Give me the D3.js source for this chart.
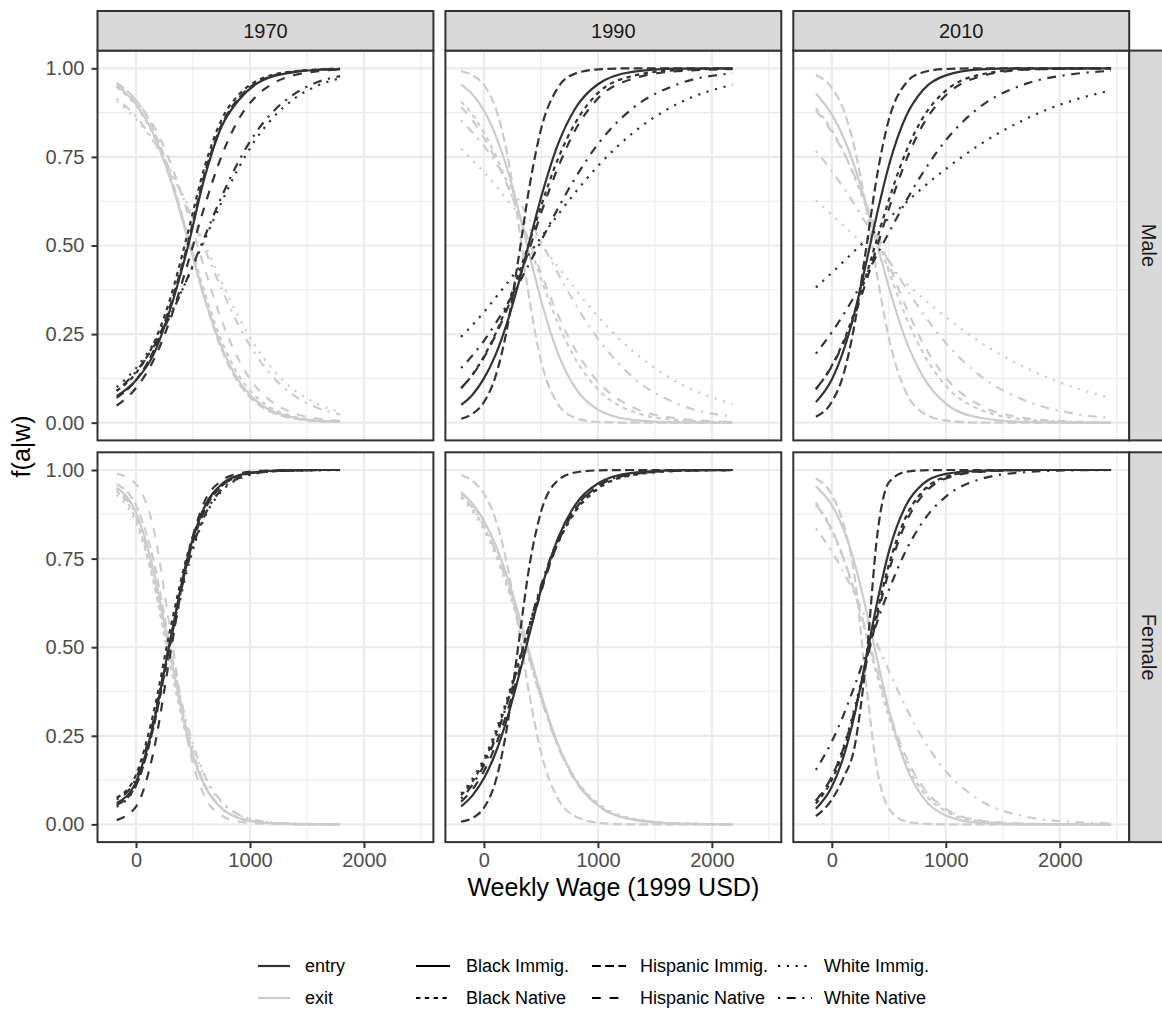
<!DOCTYPE html>
<html>
<head>
<meta charset="utf-8">
<title>f(a|w) by weekly wage</title>
<script src="https://d3js.org/d3.v7.min.js"></script>
<style>
  body { margin: 0; background: #ffffff; }
  svg text { font-family: "Liberation Sans", Arial, Helvetica, sans-serif; }
</style>
</head>
<body>
<script>
// facets and groups
var years = ["1970", "1990", "2010"];
var sexes = ["Male", "Female"];
var flows = ["entry", "exit"];
var groups = ["Black Immig.", "Black Native", "Hispanic Immig.", "Hispanic Native", "White Immig.", "White Native"];

var xTicks = [0, 1000, 2000];
var xMinor = [500, 1500, 2500];
var yTicks = [0, 0.25, 0.5, 0.75, 1];
var yMinor = [0.125, 0.375, 0.625, 0.875];

// wage points where the curves were read
var wage1970 = [-170, 0, 150, 300, 450, 600, 750, 900, 1050, 1200, 1400, 1600, 1790];
var wage1990 = [-200, -100, 0, 100, 200, 300, 400, 500, 650, 800, 1000, 1300, 1700, 2180];
var wage2010 = [-140, 0, 100, 200, 300, 400, 500, 650, 800, 1000, 1300, 1700, 2100, 2450];

// rows follow the order of groups
var male1970Entry = [
  [0.075, 0.12, 0.19, 0.32, 0.49, 0.69, 0.835, 0.91, 0.955, 0.977, 0.99, 0.996, 0.998],
  [0.09, 0.14, 0.22, 0.35, 0.53, 0.72, 0.855, 0.925, 0.963, 0.982, 0.992, 0.997, 0.999],
  [0.07, 0.12, 0.2, 0.33, 0.5, 0.7, 0.84, 0.915, 0.958, 0.979, 0.991, 0.996, 0.998],
  [0.048, 0.098, 0.174, 0.291, 0.445, 0.609, 0.752, 0.856, 0.92, 0.957, 0.982, 0.992, 0.997],
  [0.1, 0.154, 0.221, 0.305, 0.406, 0.515, 0.622, 0.719, 0.799, 0.86, 0.917, 0.952, 0.972],
  [0.09, 0.144, 0.212, 0.301, 0.407, 0.523, 0.637, 0.737, 0.818, 0.877, 0.93, 0.962, 0.978]
];
var male1970Exit = [
  [0.951, 0.899, 0.816, 0.688, 0.523, 0.353, 0.214, 0.119, 0.063, 0.032, 0.013, 0.005, 0.002],
  [0.947, 0.894, 0.813, 0.69, 0.533, 0.37, 0.231, 0.134, 0.074, 0.039, 0.016, 0.007, 0.003],
  [0.959, 0.91, 0.83, 0.701, 0.53, 0.352, 0.207, 0.112, 0.057, 0.028, 0.011, 0.004, 0.002],
  [0.953, 0.909, 0.84, 0.735, 0.595, 0.437, 0.29, 0.178, 0.102, 0.057, 0.025, 0.011, 0.005],
  [0.908, 0.857, 0.795, 0.713, 0.616, 0.507, 0.398, 0.299, 0.215, 0.15, 0.089, 0.052, 0.03],
  [0.915, 0.863, 0.798, 0.712, 0.608, 0.492, 0.378, 0.275, 0.192, 0.129, 0.074, 0.041, 0.023]
];
var female1970Entry = [
  [0.06, 0.12, 0.28, 0.52, 0.75, 0.895, 0.96, 0.985, 0.994, 0.998, 0.999, 1, 1],
  [0.075, 0.14, 0.31, 0.55, 0.76, 0.895, 0.955, 0.982, 0.993, 0.997, 0.999, 1, 1],
  [0.055, 0.11, 0.27, 0.51, 0.74, 0.885, 0.955, 0.983, 0.994, 0.998, 0.999, 1, 1],
  [0.012, 0.05, 0.2, 0.48, 0.75, 0.91, 0.97, 0.99, 0.997, 0.999, 1, 1, 1],
  [0.05, 0.11, 0.27, 0.5, 0.72, 0.865, 0.94, 0.975, 0.99, 0.996, 0.998, 0.999, 1],
  [0.07, 0.13, 0.29, 0.52, 0.73, 0.87, 0.945, 0.977, 0.991, 0.996, 0.999, 1, 1]
];
var female1970Exit = [
  [0.95, 0.88, 0.72, 0.48, 0.25, 0.11, 0.045, 0.018, 0.007, 0.003, 0.001, 0, 0],
  [0.94, 0.86, 0.69, 0.45, 0.24, 0.11, 0.046, 0.019, 0.008, 0.003, 0.001, 0, 0],
  [0.96, 0.9, 0.75, 0.5, 0.26, 0.115, 0.047, 0.018, 0.007, 0.003, 0.001, 0, 0],
  [0.99, 0.96, 0.84, 0.55, 0.24, 0.08, 0.025, 0.008, 0.003, 0.001, 0, 0, 0],
  [0.93, 0.85, 0.69, 0.47, 0.27, 0.135, 0.062, 0.027, 0.012, 0.005, 0.002, 0.001, 0],
  [0.945, 0.87, 0.71, 0.49, 0.28, 0.14, 0.065, 0.028, 0.012, 0.005, 0.002, 0.001, 0]
];

var male1990Entry = [
  [0.05, 0.079, 0.125, 0.19, 0.279, 0.389, 0.512, 0.634, 0.786, 0.886, 0.955, 0.99, 0.999, 1],
  [0.097, 0.136, 0.187, 0.25, 0.328, 0.416, 0.51, 0.61, 0.745, 0.845, 0.93, 0.978, 0.995, 0.999],
  [0.011, 0.025, 0.058, 0.129, 0.261, 0.457, 0.667, 0.827, 0.946, 0.985, 0.997, 1, 1, 1],
  [0.098, 0.135, 0.184, 0.245, 0.318, 0.401, 0.491, 0.59, 0.72, 0.825, 0.915, 0.97, 0.992, 0.998],
  [0.242, 0.276, 0.312, 0.352, 0.392, 0.435, 0.478, 0.522, 0.587, 0.649, 0.724, 0.816, 0.9, 0.954],
  [0.154, 0.19, 0.231, 0.279, 0.332, 0.389, 0.45, 0.512, 0.605, 0.69, 0.786, 0.886, 0.955, 0.986]
];
var male1990Exit = [
  [0.955, 0.926, 0.881, 0.813, 0.721, 0.604, 0.474, 0.347, 0.195, 0.099, 0.037, 0.008, 0.001, 0],
  [0.906, 0.869, 0.819, 0.756, 0.68, 0.593, 0.5, 0.407, 0.28, 0.181, 0.094, 0.032, 0.007, 0.001],
  [0.992, 0.98, 0.953, 0.89, 0.765, 0.567, 0.346, 0.176, 0.052, 0.014, 0.002, 0, 0, 0],
  [0.891, 0.853, 0.804, 0.745, 0.673, 0.594, 0.508, 0.423, 0.304, 0.207, 0.116, 0.044, 0.012, 0.002],
  [0.773, 0.741, 0.707, 0.67, 0.63, 0.59, 0.547, 0.504, 0.44, 0.378, 0.3, 0.204, 0.114, 0.053],
  [0.853, 0.819, 0.781, 0.736, 0.686, 0.631, 0.573, 0.512, 0.421, 0.336, 0.237, 0.13, 0.053, 0.017]
];
var female1990Entry = [
  [0.051, 0.082, 0.13, 0.2, 0.295, 0.411, 0.538, 0.661, 0.808, 0.901, 0.962, 0.992, 0.999, 1],
  [0.082, 0.121, 0.178, 0.252, 0.344, 0.45, 0.561, 0.666, 0.795, 0.883, 0.948, 0.986, 0.998, 1],
  [0.008, 0.018, 0.047, 0.119, 0.269, 0.5, 0.731, 0.881, 0.971, 0.993, 0.999, 1, 1, 1],
  [0.064, 0.099, 0.15, 0.221, 0.313, 0.423, 0.542, 0.655, 0.795, 0.888, 0.954, 0.988, 0.998, 1],
  [0.087, 0.129, 0.186, 0.261, 0.352, 0.457, 0.565, 0.667, 0.794, 0.881, 0.946, 0.985, 0.997, 1],
  [0.073, 0.112, 0.167, 0.242, 0.338, 0.448, 0.564, 0.673, 0.805, 0.892, 0.955, 0.988, 0.998, 1]
];
var female1990Exit = [
  [0.938, 0.905, 0.857, 0.79, 0.703, 0.598, 0.483, 0.369, 0.226, 0.127, 0.054, 0.014, 0.002, 0],
  [0.926, 0.89, 0.838, 0.769, 0.68, 0.577, 0.467, 0.359, 0.224, 0.129, 0.057, 0.016, 0.003, 0],
  [0.986, 0.969, 0.933, 0.863, 0.739, 0.56, 0.364, 0.204, 0.072, 0.023, 0.005, 0, 0, 0],
  [0.937, 0.903, 0.854, 0.786, 0.698, 0.592, 0.477, 0.364, 0.222, 0.124, 0.053, 0.014, 0.002, 0],
  [0.921, 0.883, 0.83, 0.76, 0.672, 0.57, 0.462, 0.357, 0.225, 0.131, 0.06, 0.017, 0.003, 0],
  [0.93, 0.894, 0.843, 0.773, 0.684, 0.579, 0.466, 0.356, 0.219, 0.124, 0.054, 0.014, 0.002, 0]
];

var male2010Entry = [
  [0.058, 0.122, 0.201, 0.311, 0.449, 0.594, 0.725, 0.864, 0.939, 0.98, 0.997, 1, 1, 1],
  [0.094, 0.161, 0.228, 0.314, 0.414, 0.522, 0.628, 0.764, 0.861, 0.937, 0.982, 0.997, 0.999, 1],
  [0.017, 0.059, 0.134, 0.278, 0.489, 0.703, 0.855, 0.958, 0.989, 0.998, 1, 1, 1, 1],
  [0.095, 0.159, 0.223, 0.303, 0.397, 0.5, 0.603, 0.739, 0.841, 0.924, 0.977, 0.996, 0.999, 1],
  [0.382, 0.423, 0.454, 0.485, 0.515, 0.546, 0.577, 0.621, 0.664, 0.716, 0.785, 0.857, 0.908, 0.938],
  [0.195, 0.255, 0.304, 0.358, 0.416, 0.476, 0.536, 0.625, 0.706, 0.797, 0.891, 0.956, 0.983, 0.993]
];
var male2010Exit = [
  [0.929, 0.87, 0.807, 0.722, 0.617, 0.5, 0.383, 0.233, 0.13, 0.054, 0.014, 0.002, 0, 0],
  [0.888, 0.826, 0.766, 0.693, 0.609, 0.518, 0.427, 0.299, 0.197, 0.104, 0.037, 0.009, 0.002, 0],
  [0.981, 0.945, 0.885, 0.775, 0.608, 0.411, 0.239, 0.086, 0.028, 0.006, 0, 0, 0, 0],
  [0.881, 0.82, 0.764, 0.696, 0.618, 0.534, 0.448, 0.327, 0.224, 0.127, 0.049, 0.013, 0.003, 0.001],
  [0.627, 0.586, 0.557, 0.527, 0.497, 0.467, 0.437, 0.393, 0.351, 0.298, 0.228, 0.155, 0.102, 0.069],
  [0.767, 0.71, 0.664, 0.615, 0.563, 0.511, 0.458, 0.38, 0.308, 0.225, 0.133, 0.062, 0.027, 0.013]
];
var female2010Entry = [
  [0.044, 0.106, 0.188, 0.31, 0.467, 0.63, 0.769, 0.9, 0.961, 0.989, 0.998, 1, 1, 1],
  [0.059, 0.126, 0.205, 0.318, 0.456, 0.602, 0.731, 0.868, 0.941, 0.981, 0.997, 1, 1, 1],
  [0.023, 0.07, 0.13, 0.22, 0.46, 0.82, 0.965, 0.995, 0.999, 1, 1, 1, 1, 1],
  [0.067, 0.135, 0.213, 0.321, 0.452, 0.589, 0.714, 0.852, 0.93, 0.976, 0.995, 1, 1, 1],
  [0.066, 0.135, 0.217, 0.329, 0.464, 0.606, 0.731, 0.865, 0.938, 0.979, 0.996, 1, 1, 1],
  [0.154, 0.234, 0.307, 0.391, 0.482, 0.573, 0.661, 0.772, 0.855, 0.925, 0.974, 0.994, 0.999, 1]
];
var female2010Exit = [
  [0.954, 0.901, 0.835, 0.737, 0.608, 0.463, 0.324, 0.165, 0.076, 0.025, 0.004, 0, 0, 0],
  [0.908, 0.833, 0.754, 0.653, 0.536, 0.416, 0.304, 0.173, 0.092, 0.037, 0.009, 0.001, 0, 0],
  [0.976, 0.93, 0.85, 0.7, 0.4, 0.15, 0.045, 0.008, 0.002, 0, 0, 0, 0, 0],
  [0.903, 0.83, 0.753, 0.657, 0.546, 0.431, 0.322, 0.191, 0.105, 0.044, 0.011, 0.002, 0, 0],
  [0.901, 0.826, 0.749, 0.652, 0.541, 0.425, 0.317, 0.188, 0.103, 0.043, 0.011, 0.002, 0, 0],
  [0.835, 0.77, 0.713, 0.65, 0.58, 0.507, 0.434, 0.33, 0.241, 0.15, 0.068, 0.022, 0.007, 0.003]
];

// lookup built from the arrays above
var wages = { "1970": wage1970, "1990": wage1990, "2010": wage2010 };
var table = {
  "1970": { Male: { entry: male1970Entry, exit: male1970Exit }, Female: { entry: female1970Entry, exit: female1970Exit } },
  "1990": { Male: { entry: male1990Entry, exit: male1990Exit }, Female: { entry: female1990Entry, exit: female1990Exit } },
  "2010": { Male: { entry: male2010Entry, exit: male2010Exit }, Female: { entry: female2010Entry, exit: female2010Exit } }
};

var fontFamily = '"Liberation Sans", Arial, Helvetica, sans-serif';
var panelLeft = [97.5, 445.4, 793.3],
    panelTop = [50.6, 452.3],
    pw = 335.9,
    ph = 389.8,
    stripSize = 39.6;
var lw = 2.2;

var x = d3.scaleLinear().domain([-338, 2609]).range([0, pw]);
var y = d3.scaleLinear().domain([-0.05, 1.05]).range([ph, 0]);

var colour = d3.scaleOrdinal().domain(flows).range(["#333333", "#cccccc"]);
// ggplot's hex linetypes, scaled by line width
var linetype = d3.scaleOrdinal().domain(groups)
  .range(["", "2 2", "4 2", "4 4", "1 3", "1 3 4 3"].map(function(p) {
    return p === "" ? null : p.split(" ").map(function(v) { return v * lw; }).join(",");
  }));

var line = d3.line()
  .x(function(d) { return x(d[0]); })
  .y(function(d) { return y(d[1]); })
  .curve(d3.curveMonotoneX);

var svg = d3.select("body").append("svg")
  .attr("width", 1162)
  .attr("height", 1014);

svg.append("rect").attr("width", 1162).attr("height", 1014).attr("fill", "#ffffff");

sexes.forEach(function(sex, r) {
  years.forEach(function(yr, c) {
    var g = svg.append("g")
      .attr("transform", "translate(" + panelLeft[c] + "," + panelTop[r] + ")");

    g.append("rect").attr("width", pw).attr("height", ph).attr("fill", "#ffffff");

    // minor gridlines
    g.selectAll(".xminor").data(xMinor).enter().append("line")
      .attr("x1", function(d) { return x(d); }).attr("x2", function(d) { return x(d); })
      .attr("y1", 0).attr("y2", ph)
      .attr("stroke", "#ebebeb").attr("stroke-width", 1.1);
    g.selectAll(".yminor").data(yMinor).enter().append("line")
      .attr("x1", 0).attr("x2", pw)
      .attr("y1", function(d) { return y(d); }).attr("y2", function(d) { return y(d); })
      .attr("stroke", "#ebebeb").attr("stroke-width", 1.1);

    // major gridlines
    g.selectAll(".xmajor").data(xTicks).enter().append("line")
      .attr("x1", function(d) { return x(d); }).attr("x2", function(d) { return x(d); })
      .attr("y1", 0).attr("y2", ph)
      .attr("stroke", "#ebebeb").attr("stroke-width", 2.2);
    g.selectAll(".ymajor").data(yTicks).enter().append("line")
      .attr("x1", 0).attr("x2", pw)
      .attr("y1", function(d) { return y(d); }).attr("y2", function(d) { return y(d); })
      .attr("stroke", "#ebebeb").attr("stroke-width", 2.2);

    // curves: exit underneath, entry on top
    ["exit", "entry"].forEach(function(flow) {
      var vals = table[yr][sex][flow];
      groups.forEach(function(grp, i) {
        var pts = wages[yr].map(function(w, k) { return [w, vals[i][k]]; });
        g.append("path")
          .attr("d", line(pts))
          .attr("fill", "none")
          .attr("stroke", colour(flow))
          .attr("stroke-width", lw)
          .attr("stroke-dasharray", linetype(grp));
      });
    });

    g.append("rect").attr("width", pw).attr("height", ph)
      .attr("fill", "none").attr("stroke", "#333333").attr("stroke-width", 2);

    // y axis on the left column
    if (c === 0) {
      var ya = g.append("g")
        .call(d3.axisLeft(y).tickValues(yTicks).tickFormat(d3.format(".2f")).tickSize(6).tickPadding(7));
      ya.select(".domain").remove();
      ya.selectAll("line").attr("stroke", "#333333").attr("stroke-width", 2);
      ya.selectAll("text").attr("font-size", "20px").attr("font-family", fontFamily).attr("fill", "#4d4d4d");
    }
    // x axis on the bottom row
    if (r === 1) {
      var xa = g.append("g")
        .attr("transform", "translate(0," + ph + ")")
        .call(d3.axisBottom(x).tickValues(xTicks).tickFormat(d3.format("d")).tickSize(6).tickPadding(5));
      xa.select(".domain").remove();
      xa.selectAll("line").attr("stroke", "#333333").attr("stroke-width", 2);
      xa.selectAll("text").attr("font-size", "20px").attr("font-family", fontFamily).attr("fill", "#4d4d4d");
    }
  });
});

// top strips
years.forEach(function(yr, c) {
  svg.append("rect")
    .attr("x", panelLeft[c]).attr("y", panelTop[0] - stripSize)
    .attr("width", pw).attr("height", stripSize)
    .attr("fill", "#d9d9d9").attr("stroke", "#333333").attr("stroke-width", 2);
  svg.append("text")
    .attr("x", panelLeft[c] + pw / 2).attr("y", panelTop[0] - stripSize / 2)
    .attr("dy", "0.35em")
    .attr("text-anchor", "middle")
    .attr("font-size", "20px").attr("fill", "#1a1a1a")
    .text(yr);
});

// right strips
sexes.forEach(function(sex, r) {
  var sx = panelLeft[2] + pw;
  svg.append("rect")
    .attr("x", sx).attr("y", panelTop[r])
    .attr("width", stripSize).attr("height", ph)
    .attr("fill", "#d9d9d9").attr("stroke", "#333333").attr("stroke-width", 2);
  svg.append("text")
    .attr("transform", "translate(" + (sx + stripSize / 2) + "," + (panelTop[r] + ph / 2) + ") rotate(90)")
    .attr("dy", "0.35em")
    .attr("text-anchor", "middle")
    .attr("font-size", "20px").attr("fill", "#1a1a1a")
    .text(sex);
});

// axis titles
svg.append("text")
  .attr("x", (panelLeft[0] + panelLeft[2] + pw) / 2).attr("y", 896)
  .attr("text-anchor", "middle")
  .attr("font-size", "25px").attr("fill", "#000000")
  .text("Weekly Wage (1999 USD)");

svg.append("text")
  .attr("transform", "translate(30," + ((panelTop[0] + panelTop[1] + ph) / 2) + ") rotate(-90)")
  .attr("text-anchor", "middle")
  .attr("font-size", "25px").attr("fill", "#000000")
  .text("f(a|w)");

// legends
var rowY = [966, 998];
var legendFont = "18px";
var colourLegend = svg.append("g");
flows.forEach(function(flow, i) {
  colourLegend.append("line")
    .attr("x1", 258).attr("x2", 290)
    .attr("y1", rowY[i]).attr("y2", rowY[i])
    .attr("stroke", colour(flow)).attr("stroke-width", lw);
  colourLegend.append("text")
    .attr("x", 305).attr("y", rowY[i]).attr("dy", "0.35em")
    .attr("font-size", legendFont).attr("fill", "#000000")
    .text(flow);
});

var keyLeft = [416, 592, 778],
    textLeft = [466, 640, 824];
var typeLegend = svg.append("g");
groups.forEach(function(grp, i) {
  var col = Math.floor(i / 2), row = i % 2;
  typeLegend.append("line")
    .attr("x1", keyLeft[col]).attr("x2", keyLeft[col] + 34)
    .attr("y1", rowY[row]).attr("y2", rowY[row])
    .attr("stroke", "#000000").attr("stroke-width", lw)
    .attr("stroke-dasharray", linetype(grp));
  typeLegend.append("text")
    .attr("x", textLeft[col]).attr("y", rowY[row]).attr("dy", "0.35em")
    .attr("font-size", legendFont).attr("fill", "#000000")
    .text(grp);
});
</script>
</body>
</html>
